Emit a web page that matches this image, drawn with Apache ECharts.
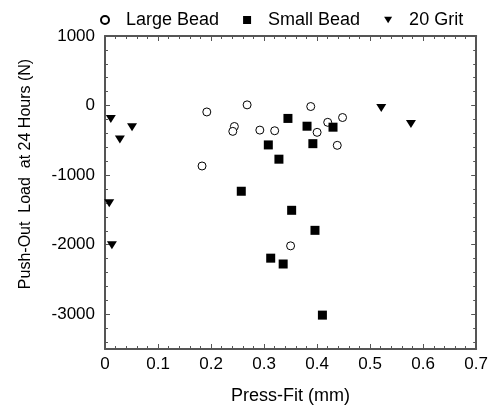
<!DOCTYPE html>
<html>
<head>
<meta charset="utf-8">
<script src="https://cdn.jsdelivr.net/npm/echarts@6/dist/echarts.min.js"></script>
<style>
html,body{margin:0;padding:0;background:#fff;}
#chart{width:491px;height:410px;}
</style>
</head>
<body>
<div id="chart"></div>
<script>
// Data: [Press-Fit (mm), Push-Out Load (N)]
const largeBead = [
  [0.192, -92], [0.183, -869], [0.244, -301], [0.241, -371], [0.268, 10],
  [0.292, -353], [0.320, -362], [0.388, -14], [0.400, -385], [0.420, -241],
  [0.448, -172], [0.438, -572], [0.350, -2017]
];
const smallBead = [
  [0.345, -185], [0.308, -566], [0.328, -771], [0.381, -297], [0.392, -548],
  [0.430, -311], [0.257, -1232], [0.352, -1506], [0.396, -1794], [0.3125, -2194],
  [0.336, -2278], [0.410, -3013]
];
const grit20 = [
  [0.011, -195], [0.028, -488], [0.051, -311], [0.521, -36], [0.577, -265],
  [0.008, -1403], [0.013, -2008]
];
const seriesNames = ['Large Bead', 'Small Bead', '20 Grit'];
const xTickValues = [0, 0.1, 0.2, 0.3, 0.4, 0.5, 0.6, 0.7];
const yMajorValues = [-3000, -2000, -1000, 0, 1000];
const yMinorValues = [-3400, -3200, -2800, -2600, -2400, -2200, -1800, -1600, -1400, -1200,
  -800, -600, -400, -200, 200, 400, 600, 800];

const AX = '#555';
const FONT = 'Liberation Sans, Arial, sans-serif';

const chart = echarts.init(document.getElementById('chart'), null, {renderer: 'canvas'});

function yAx(pos, major, showLine) {
  return {
    type: 'value', min: -3500, max: 1000, interval: 500, position: pos,
    axisLine: {show: showLine, onZero: false, lineStyle: {color: AX, width: 2}},
    axisTick: {show: true, inside: true, length: major ? 5 : 3,
      customValues: major ? yMajorValues : yMinorValues,
      lineStyle: {color: AX, width: 1}},
    axisLabel: {show: false},
    splitLine: {show: false}
  };
}

const yAxes = [
  Object.assign(yAx('left', true, true), {
    axisLabel: {show: true, customValues: yMajorValues, fontSize: 17, color: '#000', margin: 10, fontFamily: FONT,
      formatter: v => String(Math.round(v))},
    name: 'Push-Out  Load  at 24 Hours (N)',
    nameLocation: 'middle', nameGap: 71,
    nameTextStyle: {fontSize: 16, color: '#000', fontFamily: FONT, padding: [0, 0, 0, 37]}
  }),
  yAx('left', false, false),
  yAx('right', true, true),
  yAx('right', false, false)
];

function xAx(pos) {
  return {
    type: 'value', min: 0, max: 0.7, interval: 0.1, position: pos,
    axisLine: {show: true, onZero: false, lineStyle: {color: AX, width: 2}},
    axisTick: {show: true, inside: true, length: 5, lineStyle: {color: AX, width: 1}},
    minorTick: {show: true, splitNumber: 5, length: 3, lineStyle: {color: AX, width: 1}},
    axisLabel: {show: false},
    splitLine: {show: false},
    minorSplitLine: {show: false}
  };
}

const xAxes = [
  Object.assign(xAx('bottom'), {
    axisLabel: {show: true, customValues: xTickValues, fontSize: 17, color: '#000', margin: 7, fontFamily: FONT,
      formatter: v => (Math.round(v * 10) / 10).toString()},
    name: 'Press-Fit (mm)', nameLocation: 'middle', nameGap: 38,
    nameTextStyle: {fontSize: 18, color: '#000', fontFamily: FONT}
  }),
  xAx('top')
];

chart.setOption({
  animation: false,
  backgroundColor: '#fff',
  grid: {left: 105, right: 13, top: 36, bottom: 56, containLabel: false},
  legend: {
    data: [
      {name: seriesNames[0], icon: 'circle'},
      {name: seriesNames[1], icon: 'rect'},
      {name: seriesNames[2], icon: 'path://M0,0L10,0L5,8Z'}
    ],
    left: 95, top: 6, itemWidth: 8, itemHeight: 8, itemGap: 24,
    textStyle: {fontSize: 18, color: '#000', fontFamily: FONT, padding: [0, 0, 0, 12]},
    selectedMode: false
  },
  xAxis: xAxes,
  yAxis: yAxes,
  series: [
    {name: seriesNames[0], type: 'scatter', data: largeBead, symbol: 'circle', symbolSize: 8,
      xAxisIndex: 0, yAxisIndex: 0,
      itemStyle: {color: '#fff', borderColor: '#000', borderWidth: 1, opacity: 1},
      emphasis: {disabled: true}, z: 3},
    {name: seriesNames[1], type: 'scatter', data: smallBead, symbol: 'rect', symbolSize: 9,
      xAxisIndex: 0, yAxisIndex: 0,
      itemStyle: {color: '#000', opacity: 1},
      emphasis: {disabled: true}, z: 4},
    {name: seriesNames[2], type: 'scatter', data: grit20, symbol: 'triangle', symbolSize: [10, 8], symbolRotate: 180,
      xAxisIndex: 0, yAxisIndex: 0,
      itemStyle: {color: '#000', opacity: 1},
      emphasis: {disabled: true}, z: 4}
  ]
});
</script>
</body>
</html>
